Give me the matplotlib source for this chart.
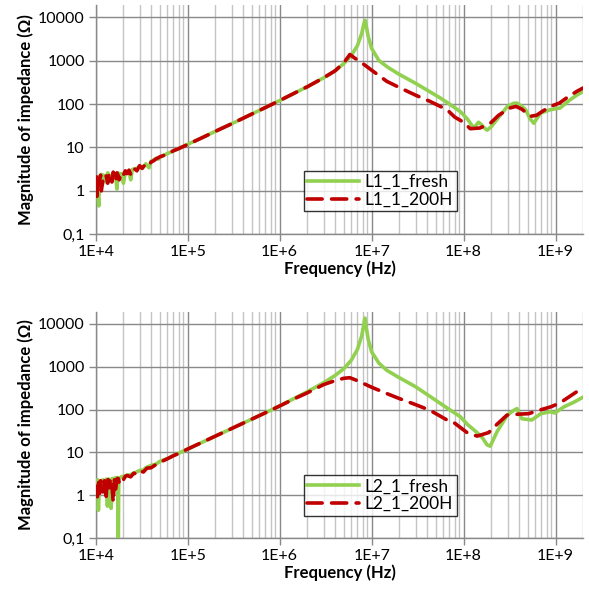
import math
import matplotlib
matplotlib.use("Agg")
import matplotlib.pyplot as plt
from matplotlib.ticker import FixedLocator, FuncFormatter, LogLocator, NullFormatter

plt.rcParams['font.family'] = ['Lato', 'DejaVu Sans']

# L1 coil, fresh and after 200 h
f_l1_fresh = [1.0e4, 1.03e4, 1.05e4, 1.08e4, 1.1e4, 1.12e4, 1.15e4, 1.18e4, 1.22e4, 1.25e4,
              1.3e4, 1.35e4, 1.4e4, 1.45e4, 1.5e4, 1.55e4, 1.6e4, 1.65e4, 1.7e4, 1.75e4,
              1.8e4, 1.9e4, 2.0e4, 2.1e4, 2.2e4, 2.3e4, 2.4e4, 2.5e4, 2.6e4, 2.8e4,
              3.0e4, 3.2e4, 3.5e4, 3.8e4, 4.0e4, 4.3e4, 4.5e4, 4.8e4, 5e4, 6e4,
              7e4, 8e4, 1e5, 1.5e5, 2e5, 3e5, 5e5, 7e5, 1e6, 1.5e6,
              2e6, 3e6, 4e6, 5e6, 6e6, 7e6, 7.8e6, 8.2e6, 8.45e6, 8.7e6,
              9.2e6, 1e7, 1.2e7, 1.5e7, 2e7, 3e7, 5.6e7, 7e7, 9.2e7, 1.1e8,
              1.29e8, 1.45e8, 1.55e8, 1.65e8, 1.8e8, 2e8, 2.5e8, 3e8, 3.5e8, 3.8e8,
              4.3e8, 4.7e8, 5.3e8, 5.8e8, 6.2e8, 6.9e8, 7.8e8, 8.8e8, 1.12e9, 1.4e9,
              1.7e9, 2e9]
z_l1_fresh = [1.6, 2.0, 1.1, 0.45, 2.2, 1.9, 2.4, 1.4, 2.3, 2.1,
              1.6, 2.6, 2.3, 2.0, 1.7, 2.6, 2.5, 2.2, 1.1, 2.6,
              2.4, 2.5, 1.5, 2.7, 2.6, 2.9, 1.8, 3.1, 3.2, 3.3,
              3.6, 3.3, 4.2, 3.4, 4.8, 5.2, 5.6, 5.4, 6.0, 7.2,
              8.3, 9.5, 11.8, 17.5, 23.5, 35, 59, 83, 120, 185,
              250, 400, 580, 860, 1300, 2200, 4200, 6800, 8500, 6500,
              3500, 1900, 1000, 700, 480, 300, 137, 100, 67, 45,
              28, 38, 34, 29, 25, 30, 55, 88, 104, 105,
              88, 75, 45, 36, 45, 62, 68, 74, 81, 120,
              160, 195]

f_l1_200h = [1.0e4, 1.02e4, 1.03e4, 1.05e4, 1.08e4, 1.1e4, 1.13e4, 1.15e4, 1.2e4, 1.25e4,
             1.3e4, 1.35e4, 1.4e4, 1.45e4, 1.5e4, 1.55e4, 1.6e4, 1.65e4, 1.7e4, 1.75e4,
             1.8e4, 1.9e4, 2.0e4, 2.1e4, 2.2e4, 2.3e4, 2.4e4, 2.5e4, 2.6e4, 2.8e4,
             3.0e4, 3.2e4, 3.3e4, 3.6e4, 3.8e4, 4e4, 4.3e4, 4.5e4, 5e4, 6e4,
             7e4, 8e4, 1e5, 1.5e5, 2e5, 3e5, 5e5, 7e5, 1e6, 1.5e6,
             2e6, 3e6, 4e6, 5e6, 5.8e6, 6.5e6, 7.8e6, 1e7, 1.46e7, 2e7,
             3e7, 4.3e7, 6.6e7, 8e7, 1e8, 1.18e8, 1.5e8, 1.95e8, 2.4e8, 3.2e8,
             3.7e8, 4.3e8, 5.3e8, 6.2e8, 7.2e8, 8.8e8, 1.1e9, 1.39e9, 1.7e9, 2e9]
z_l1_200h = [1.3, 2.1, 0.75, 2.0, 1.4, 1.7, 2.3, 1.0, 1.8, 2.4,
             2.2, 1.5, 2.6, 2.4, 1.6, 2.7, 2.3, 1.7, 2.6, 2.3,
             1.8, 2.6, 2.3, 2.9, 2.5, 3.0, 2.4, 3.3, 3.3, 2.9,
             3.8, 3.3, 3.6, 4.4, 4.0, 4.6, 5.0, 5.4, 6.1, 7.0,
             8.4, 9.4, 11.7, 17.5, 23.5, 35, 59, 83, 120, 185,
             250, 400, 580, 900, 1380, 1150, 890, 600, 333, 240,
             160, 115, 74, 50, 38, 27, 28, 36, 55, 81,
             88, 76, 52, 55, 68, 88, 105, 150, 195, 235]

# L2 coil, fresh and after 200 h
f_l2_fresh = [1.0e4, 1.02e4, 1.03e4, 1.05e4, 1.07e4, 1.1e4, 1.15e4, 1.2e4, 1.24e4, 1.28e4,
              1.31e4, 1.34e4, 1.37e4, 1.4e4, 1.44e4, 1.47e4, 1.52e4, 1.56e4, 1.6e4, 1.65e4,
              1.7e4, 1.74e4, 1.76e4, 1.78e4, 1.82e4, 1.9e4, 2.0e4, 2.1e4, 2.2e4, 2.4e4,
              2.5e4, 2.7e4, 3e4, 3.3e4, 3.5e4, 4e4, 4.5e4, 5e4, 6e4, 7e4,
              8e4, 1e5, 1.5e5, 2e5, 3e5, 5e5, 7e5, 1e6, 1.5e6, 2e6,
              3e6, 4e6, 5e6, 6e6, 7e6, 7.8e6, 8.2e6, 8.45e6, 8.7e6, 9.2e6,
              1e7, 1.2e7, 1.46e7, 2e7, 3e7, 5.6e7, 7e7, 9.2e7, 1.1e8, 1.4e8,
              1.6e8, 1.8e8, 1.95e8, 2.3e8, 3e8, 3.5e8, 3.8e8, 4.3e8, 5.5e8, 6.9e8,
              8.8e8, 9.8e8, 1.23e9, 1.6e9, 2e9]
z_l2_fresh = [2.2, 1.8, 1.3, 2.3, 0.45, 2.0, 1.6, 2.3, 2.0, 1.7,
              2.4, 0.56, 2.3, 2.4, 2.2, 0.5, 2.5, 2.1, 2.2, 2.6,
              2.6, 2.3, 0.05, 2.4, 2.5, 2.7, 2.8, 2.7, 3.0, 3.0,
              3.2, 3.4, 3.8, 3.9, 4.4, 5.0, 5.3, 6.2, 7.2, 8.4,
              9.6, 12.0, 18, 24, 36, 60, 84, 121, 190, 260,
              420, 620, 900, 1400, 2500, 5200, 9500, 13500, 8500, 4200,
              2200, 1200, 820, 550, 340, 138, 100, 68, 45, 29,
              22, 15, 14, 30, 75, 95, 105, 61, 57, 80,
              89, 83, 115, 150, 195]

f_l2_200h = [1.0e4, 1.02e4, 1.04e4, 1.05e4, 1.08e4, 1.1e4, 1.13e4, 1.15e4, 1.2e4, 1.25e4,
             1.3e4, 1.33e4, 1.35e4, 1.4e4, 1.45e4, 1.5e4, 1.55e4, 1.6e4, 1.65e4, 1.7e4,
             1.75e4, 1.8e4, 1.9e4, 2e4, 2.1e4, 2.2e4, 2.4e4, 2.6e4, 2.8e4, 3e4,
             3.3e4, 3.6e4, 4e4, 4.5e4, 5e4, 6e4, 7e4, 8e4, 1e5, 1.5e5,
             2e5, 3e5, 5e5, 7e5, 1e6, 1.5e6, 2e6, 3e6, 4e6, 5e6,
             5.8e6, 7e6, 1e7, 1.5e7, 2e7, 3e7, 4.3e7, 6.6e7, 7.8e7, 1.09e8,
             1.4e8, 1.87e8, 2.3e8, 2.96e8, 4e8, 5.1e8, 6.5e8, 8.8e8, 1.1e9, 1.39e9,
             1.7e9, 2e9]
z_l2_200h = [1.0, 1.6, 0.8, 1.5, 2.0, 1.1, 2.2, 2.0, 1.2, 2.2,
             0.95, 2.4, 2.6, 1.5, 2.5, 1.7, 0.7, 2.3, 1.4, 2.4,
             2.5, 2.0, 2.6, 2.3, 2.8, 2.9, 2.7, 3.3, 3.1, 3.7,
             3.5, 4.3, 4.4, 5.2, 5.9, 7.1, 8.4, 9.5, 12.0, 18,
             24, 36, 60, 84, 121, 185, 245, 380, 470, 535,
             550, 470, 330, 230, 180, 130, 96, 57, 50, 29,
             24, 29, 45, 74, 78, 80, 95, 115, 140, 195,
             260, 300]

panels = [
    (f_l1_fresh, z_l1_fresh, "L1_1_fresh", f_l1_200h, z_l1_200h, "L1_1_200H"),
    (f_l2_fresh, z_l2_fresh, "L2_1_fresh", f_l2_200h, z_l2_200h, "L2_1_200H"),
]

y_ticks = [0.1, 1, 10, 100, 1000, 10000]
x_ticks = [1e4, 1e5, 1e6, 1e7, 1e8, 1e9]

green = '#92D050'
red = '#C00000'
major_grid = '#898989'
minor_grid = '#C4C4C4'

fig = plt.figure(figsize=(5.89, 5.92), dpi=100)
rects = [[0.1625, 0.6042, 0.8278, 0.3874],
         [0.1625, 0.0907, 0.8278, 0.3829]]


def ytick_fmt(v, pos):
    if v < 1:
        return "0,1"
    return "%d" % round(v)


def xtick_fmt(v, pos):
    return "1E+%d" % round(math.log10(v))


for rect, (fa, za, la, fb, zb, lb) in zip(rects, panels):
    ax = fig.add_axes(rect)
    ax.set_xscale('log')
    ax.set_yscale('log')
    ax.set_xlim(1e4, 2e9)
    ax.set_ylim(0.1, 10 ** 4.28)

    ax.plot(fa, za, color=green, lw=2.6, label=la, zorder=3, solid_joinstyle='round')
    ax.plot(fb, zb, color=red, lw=2.6, dashes=(4.2, 2.6), label=lb, zorder=4,
            dash_capstyle='round')

    ax.yaxis.set_major_locator(FixedLocator(y_ticks))
    ax.yaxis.set_major_formatter(FuncFormatter(ytick_fmt))
    ax.yaxis.set_minor_locator(FixedLocator([]))
    ax.xaxis.set_major_locator(FixedLocator(x_ticks))
    ax.xaxis.set_major_formatter(FuncFormatter(xtick_fmt))
    ax.xaxis.set_minor_locator(LogLocator(base=10, subs=range(2, 10), numticks=20))
    ax.xaxis.set_minor_formatter(NullFormatter())

    ax.grid(True, which='major', axis='both', color=major_grid, lw=1.0, zorder=0)
    ax.grid(True, which='minor', axis='x', color=minor_grid, lw=1.0, zorder=0)
    ax.set_axisbelow(True)

    for side in ('top', 'right'):
        ax.spines[side].set_visible(False)
    for side in ('left', 'bottom'):
        ax.spines[side].set_color(major_grid)
        ax.spines[side].set_linewidth(1.0)
    ax.tick_params(which='major', length=5, width=1, color=major_grid,
                   labelsize=11.5, pad=3, labelcolor='black')
    ax.tick_params(which='minor', length=0)

    ax.set_xlabel("Frequency (Hz)", fontsize=12, fontweight='bold', labelpad=1)
    ax.set_ylabel("Magnitude of impedance (Ω)", fontsize=12, fontweight='bold', labelpad=3)

    leg = ax.legend(loc='lower left', bbox_to_anchor=(0.427, 0.1), fontsize=12.5,
                    frameon=True, fancybox=False, handlelength=3.0, handletextpad=0.3,
                    borderpad=0.2, labelspacing=0.1, borderaxespad=0)
    leg.get_frame().set_edgecolor('black')
    leg.get_frame().set_linewidth(1.0)

fig.savefig("out.png", dpi=100)
